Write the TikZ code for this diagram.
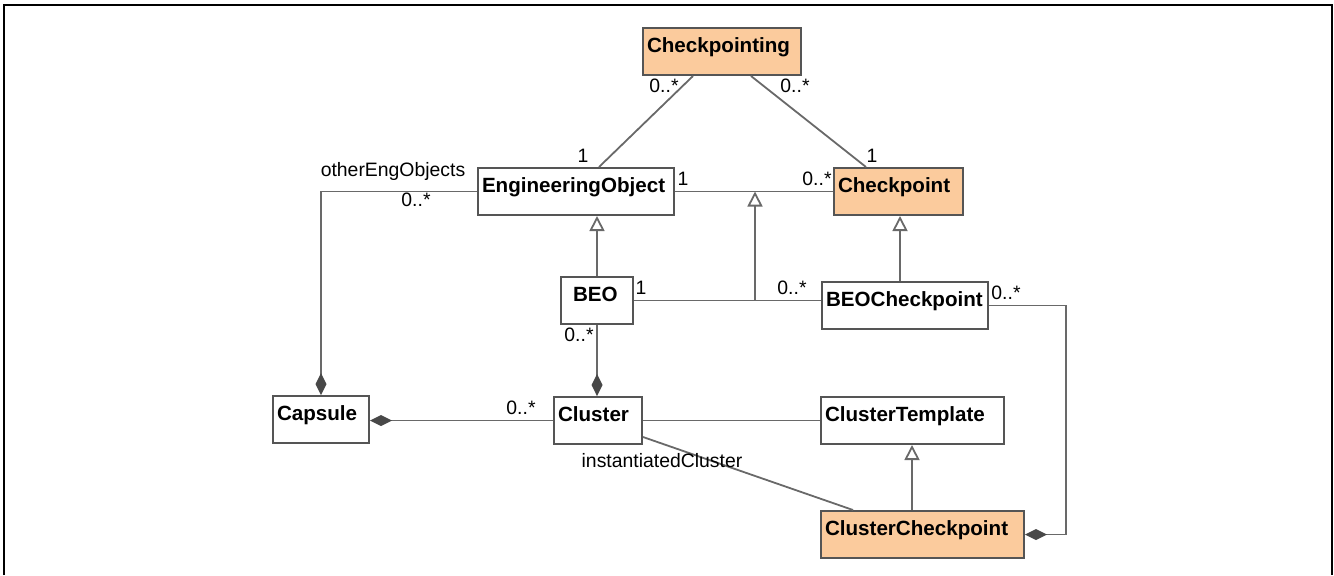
\documentclass[tikz,border=0pt]{standalone}
\usepackage{fontspec}
\setmainfont{Liberation Sans}
\usetikzlibrary{arrows.meta,calc}
\definecolor{peach}{RGB}{251,203,157}
\definecolor{edge}{RGB}{105,105,105}
\definecolor{boxline}{RGB}{85,85,85}
\definecolor{knob}{RGB}{72,72,72}

\begin{document}
\begin{tikzpicture}[x=0.5pt,y=-0.5pt,
  cls/.style={draw=boxline, line width=1pt, fill=white, anchor=north west,
    inner xsep=2pt, inner ysep=0pt, minimum height=23.5pt, align=left,
    text height=7.5pt, text depth=6.75pt,
    font=\fontsize{10.3}{12}\selectfont\bfseries},
  hot/.style={cls, fill=peach},
  lbl/.style={font=\fontsize{9.7}{11}\selectfont, inner sep=0pt},
  assoc/.style={draw=edge, line width=0.9pt},
  gen/.style={assoc, -{Triangle[open, length=7.5pt, width=7.5pt, fill=white]}},
  comp/.style={assoc, -{Diamond[length=11pt, width=5.5pt, fill=knob, color=knob]}},
]
\useasboundingbox (0,0) rectangle (1334,575);

% frame
\draw[line width=1.3pt] (4,575) -- (4,5) -- (1332,5) -- (1332,575);

% classes
\node[hot, text width=75pt]   (cpting)  at (642,27)  {Checkpointing};
\node[cls, text width=94pt]   (eo)      at (477,167) {EngineeringObject};
\node[hot, text width=60.5pt] (cp)      at (833,167) {Checkpoint};
\node[cls, text width=24pt, inner xsep=6pt] (beo) at (560,276) {BEO};
\node[cls, text width=79pt]   (beocp)   at (821,281) {BEOCheckpoint};
\node[cls, text width=44pt]   (capsule) at (272,395) {Capsule};
\node[cls, text width=40pt]   (cluster) at (553,396) {Cluster};
\node[cls, text width=87.5pt] (ct)      at (820,396) {ClusterTemplate};
\node[hot, text width=97.5pt] (ccp)     at (820,510) {ClusterCheckpoint};

% attachment points
\coordinate (j)   at ($(beo.east)+(121,0)$);
\coordinate (cpg) at ($(cp.south west)+(67,0)$);
\coordinate (ctg) at ($(ct.south west)+(92,0)$);

% associations
\draw[assoc] ($(cpting.south west)+(51,0)$) -- ($(eo.north west)+(122,0)$);
\draw[assoc] ($(cpting.south west)+(109,0)$) -- ($(cp.north west)+(33,0)$);
\draw[assoc] (eo.east) -- (eo.east -| cp.west);
\draw[assoc] (beo.east) -- (beo.east -| beocp.west);
\draw[assoc] (cluster.east) -- (cluster.east -| ct.west);
\draw[assoc] ($(cluster.south east)+(0,-8)$) -- ($(ccp.north west)+(33,0)$);

% generalizations
\draw[gen] (j) -- (j |- eo.east);
\draw[gen] (beo.north) -- (beo.north |- eo.south);
\draw[gen] (cpg |- beocp.north) -- (cpg);
\draw[gen] (ctg |- ccp.north) -- (ctg);

% compositions
\draw[comp] (beo.south) -- (beo.south |- cluster.north);
\draw[comp] (cluster.west) -- (cluster.west -| capsule.east);
\draw[comp] (eo.west) -| (capsule.north);
\draw[comp] (beocp.east) -- ++(77,0) |- (ccp.east);

% multiplicities and roles
\node[lbl] at (664,86)  {0..*};
\node[lbl] at (795,86)  {0..*};
\node[lbl] at (583,156) {1};
\node[lbl] at (872,156) {1};
\node[lbl] at (683,179) {1};
\node[lbl] at (817,179) {0..*};
\node[lbl] at (393,171) {otherEngObjects};
\node[lbl] at (416,200) {0..*};
\node[lbl] at (641,288) {1};
\node[lbl] at (792,288) {0..*};
\node[lbl] at (1006,293) {0..*};
\node[lbl] at (579,335) {0..*};
\node[lbl] at (521,408) {0..*};
\node[lbl] at (662,461) {instantiatedCluster};
\end{tikzpicture}
\end{document}
